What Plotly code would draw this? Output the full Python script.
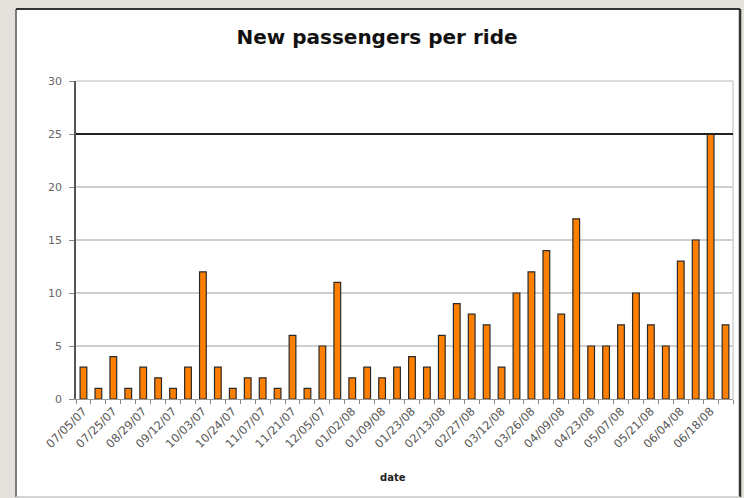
import plotly.graph_objects as go

# ---- data ----
labeled_dates = ["07/05/07", "07/25/07", "08/29/07", "09/12/07", "10/03/07", "10/24/07",
                 "11/07/07", "11/21/07", "12/05/07", "01/02/08", "01/09/08", "01/23/08",
                 "02/13/08", "02/27/08", "03/12/08", "03/26/08", "04/09/08", "04/23/08",
                 "05/07/08", "05/21/08", "06/04/08", "06/18/08"]
between_dates = ["07/11/07", "08/15/07", "09/05/07", "09/26/07", "10/17/07", "10/31/07",
                 "11/14/07", "11/28/07", "12/19/07", "01/05/08", "01/16/08", "02/06/08",
                 "02/20/08", "03/05/08", "03/19/08", "04/02/08", "04/16/08", "04/30/08",
                 "05/14/08", "05/28/08", "06/11/08", "06/25/08"]
dates = [d for pair in zip(labeled_dates, between_dates) for d in pair]
new_passengers = [3, 1, 4, 1, 3, 2, 1, 3, 12, 3, 1, 2, 2, 1, 6, 1, 5, 11, 2, 3, 2, 3,
                  4, 3, 6, 9, 8, 7, 3, 10, 12, 14, 8, 17, 5, 5, 7, 10, 7, 5, 13, 15, 25, 7]
y_ticks = [0, 5, 10, 15, 20, 25, 30]
reference_level = 25

tick_text = [d if d in labeled_dates else "" for d in dates]

fig = go.Figure()
fig.add_trace(go.Bar(
    x=dates, y=new_passengers,
    marker=dict(color="#ff8000", line=dict(color="#2a2a2a", width=1.2)),
    showlegend=False,
))

# chart frame (white panel on grey backdrop)
frame_dark = "#333333"
fig.add_shape(type="rect", xref="paper", yref="paper", x0=-0.0913, x1=1.0107, y0=-0.308, y1=1.2264,
              fillcolor="white", line=dict(width=0), layer="below")
for (x0, y0, x1, y1, col, w) in [(-0.0913, -0.308, -0.0913, 1.2264, "#555555", 1.5),
                                 (-0.0913, 1.2264, 1.0107, 1.2264, frame_dark, 2),
                                 (1.0107, -0.308, 1.0107, 1.2264, frame_dark, 2.5),
                                 (-0.0913, -0.308, 1.0107, -0.308, "#c8c8c8", 1.5)]:
    fig.add_shape(type="line", xref="paper", yref="paper", x0=x0, y0=y0, x1=x1, y1=y1,
                  line=dict(color=col, width=w), layer="above")
# plot-area light border top/right
fig.add_shape(type="line", xref="paper", yref="paper", x0=0, x1=1, y0=1, y1=1,
              line=dict(color="#d0d0d0", width=1.5), layer="above")
fig.add_shape(type="line", xref="paper", yref="paper", x0=1, x1=1, y0=0, y1=1,
              line=dict(color="#d0d0d0", width=1.5), layer="above")

fig.add_hline(y=reference_level, line=dict(color="#222222", width=2), layer="above")

fig.add_annotation(text="<b>date</b>", xref="paper", yref="paper", x=0.4825, y=-0.248,
                   xanchor="center", yanchor="middle",
                   showarrow=False, font=dict(family="DejaVu Sans", size=10, color="#222"))

fig.update_layout(
    width=744, height=498,
    margin=dict(l=76, r=11, t=81, b=99),
    paper_bgcolor="#e4e1dd",
    plot_bgcolor="white",
    title=dict(text="<b>New passengers per ride</b>", x=377 / 744, xanchor="center",
               y=1 - 37 / 498, yanchor="middle", yref="container",
               font=dict(family="DejaVu Sans", size=20, color="#111")),
    bargap=0.55,
    xaxis=dict(
        type="category", categoryorder="array", categoryarray=dates,
        tickmode="array", tickvals=dates, ticktext=tick_text,
        tickangle=-45, tickson="boundaries", ticks="outside", ticklen=4, tickcolor="#888",
        tickfont=dict(family="DejaVu Sans", size=11.5, color="#555"),
        showline=True, linecolor="#999", linewidth=1, showgrid=False,
    ),
    yaxis=dict(
        range=[0, 30], tickmode="array", tickvals=y_ticks,
        ticks="outside", ticklen=5, tickcolor="#888", ticklabelstandoff=5,
        tickfont=dict(family="DejaVu Sans", size=11, color="#666"),
        showline=True, linecolor="#555", linewidth=1.5,
        showgrid=True, gridcolor="#cfcfcf", gridwidth=1.5, zeroline=False,
    ),
)

fig.write_html("out.html")
